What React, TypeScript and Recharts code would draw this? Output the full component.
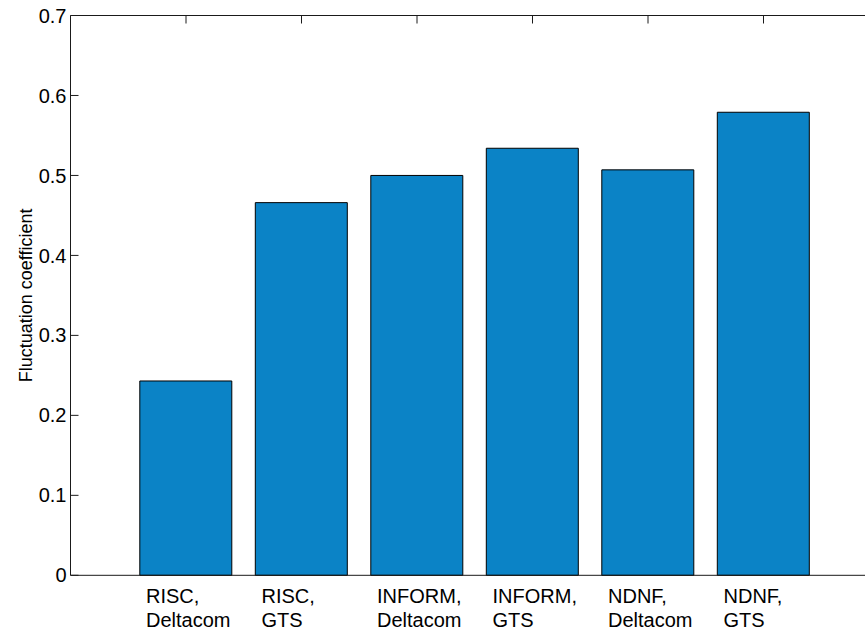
import { Bar, BarChart, Label, ReferenceLine, XAxis, YAxis } from "recharts";

const categories = [
  "RISC,\nDeltacom",
  "RISC,\nGTS",
  "INFORM,\nDeltacom",
  "INFORM,\nGTS",
  "NDNF,\nDeltacom",
  "NDNF,\nGTS"
];
const fluctuation = [0.243, 0.466, 0.5, 0.534, 0.507, 0.579];
const yTicks = [0, 0.1, 0.2, 0.3, 0.4, 0.5, 0.6, 0.7];

const data = categories.map((name, i) => ({ name, value: fluctuation[i] }));

const font = '"Liberation Sans", Arial, Helvetica, sans-serif';
const axisColor = "#1a1a1a";
const plotTop = 15.5;
const tickLen = 8;
const yTickMargin = 4;

// two-line category label, plus the inward tick on the top box edge
function CategoryTick({ x, y, payload }: { x?: number; y?: number; payload?: { value: string } }) {
  const cx = x ?? 0;
  const lines = String(payload?.value ?? "").split("\n");
  const left = cx - 40;
  return (
    <g>
      <line x1={cx} x2={cx} y1={plotTop} y2={plotTop + tickLen} stroke={axisColor} />
      <text x={left} y={y} fontSize={20} fontFamily={font} fill="#000" textAnchor="start">
        {lines.map((line, i) => (
          <tspan key={i} x={left} dy={i === 0 ? 28 : 24}>
            {line}
          </tspan>
        ))}
      </text>
    </g>
  );
}

// value label with an inward tick mark (matlab style)
function ValueTick({ x, y, payload }: { x?: number; y?: number; payload?: { value: number } }) {
  const tx = x ?? 0;
  const ty = y ?? 0;
  const axisX = tx + yTickMargin;
  return (
    <g>
      <line x1={axisX} x2={axisX + tickLen} y1={ty} y2={ty} stroke={axisColor} />
      <text x={tx} y={ty} dy="0.355em" textAnchor="end" fontSize={20} fontFamily={font} fill="#000">
        {String(payload?.value)}
      </text>
    </g>
  );
}

function YTitle({ viewBox }: { viewBox?: { x: number; y: number; width: number; height: number } }) {
  const cy = viewBox ? viewBox.y + viewBox.height / 2 : 295;
  const bx = 32;
  return (
    <text
      x={bx}
      y={cy}
      transform={`rotate(-90 ${bx} ${cy})`}
      textAnchor="middle"
      fontSize={18}
      fontFamily={font}
      fill="#000"
    >
      Fluctuation coefficient
    </text>
  );
}

export default function App() {
  return (
    <div
      style={{
        position: "absolute",
        left: 0,
        top: 0,
        width: 865,
        height: 633,
        overflow: "hidden",
        background: "#fff"
      }}
    >
      <BarChart
        width={900}
        height={633}
        data={data}
        margin={{ top: plotTop, right: 21, bottom: 0, left: 0 }}
        barCategoryGap="10%"
      >
        <XAxis
          dataKey="name"
          height={57.7}
          padding={{ left: 57.75, right: 57.75 }}
          stroke={axisColor}
          tickLine={false}
          tickSize={0}
          tickMargin={0}
          tick={<CategoryTick />}
          interval={0}
        />
        <YAxis
          width={70.5}
          domain={[0, 0.7]}
          ticks={yTicks}
          tickLine={false}
          tickSize={0}
          tickMargin={yTickMargin}
          stroke={axisColor}
          tick={<ValueTick />}
          interval={0}
        >
          <Label content={<YTitle />} />
        </YAxis>
        <ReferenceLine y={0.7} stroke={axisColor} />
        <Bar dataKey="value" fill="#0b83c6" stroke="#000" strokeWidth={1} isAnimationActive={false} />
      </BarChart>
    </div>
  );
}
